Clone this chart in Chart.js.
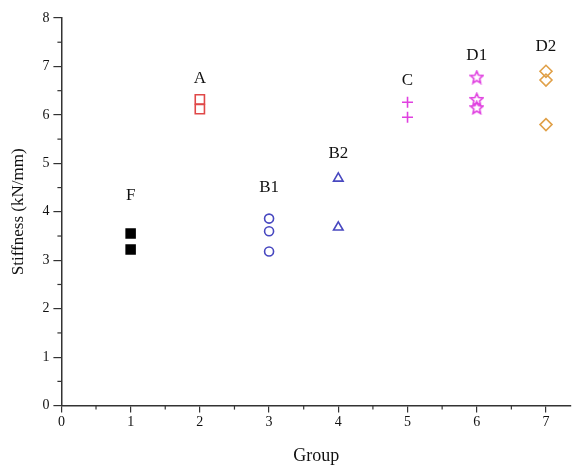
<!DOCTYPE html>
<html>
<head>
<meta charset="utf-8">
<script src="https://cdn.jsdelivr.net/npm/chart.js@4/dist/chart.umd.min.js"></script>
<style>
  html, body { margin: 0; padding: 0; background: #fff; }
  #wrap { width: 579px; height: 469px; }
</style>
</head>
<body>
<div id="wrap"><canvas id="chart" width="579" height="469"></canvas></div>
<script>
// data
var groups = ['F', 'A', 'B1', 'B2', 'C', 'D1', 'D2'];
var groupX = [1, 2, 3, 4, 5, 6, 7];
var valsF = [3.55, 3.22];
var valsA = [6.32, 6.12];
var valsB1 = [3.86, 3.6, 3.18];
var valsB2 = [4.69, 3.68];
var valsC = [6.26, 5.95];
var valsD1 = [6.78, 6.32, 6.15];
var valsD2 = [6.9, 6.72, 5.8];
// height of the group labels (data units)
var labelY = [4.34, 6.76, 4.5, 5.2, 6.71, 7.23, 7.42];
var xTicks = [0, 1, 2, 3, 4, 5, 6, 7];

var serif = '"Liberation Serif", "DejaVu Serif", serif';

// five point open star for D1
function makeStar(color) {
  var c = document.createElement('canvas');
  c.width = 15; c.height = 15;
  var g = c.getContext('2d');
  g.strokeStyle = color;
  g.lineWidth = 1.6;
  g.beginPath();
  for (var i = 0; i < 10; i++) {
    var r = i % 2 === 0 ? 6.5 : 3;
    var a = -Math.PI / 2 + i * Math.PI / 5;
    var px = 7.5 + r * Math.cos(a), py = 8 + r * Math.sin(a);
    if (i === 0) g.moveTo(px, py); else g.lineTo(px, py);
  }
  g.closePath();
  g.stroke();
  return c;
}

function pts(i, vals) {
  return vals.map(function (v) { return { x: groupX[i], y: v }; });
}

function ds(i, vals, style, color, fill, radius) {
  return {
    label: groups[i],
    data: pts(i, vals),
    pointStyle: style,
    pointRadius: radius,
    pointBorderColor: color,
    pointBackgroundColor: fill ? color : 'rgba(0,0,0,0)',
    pointBorderWidth: 1.6,
    showLine: false
  };
}

// minor ticks + group labels
var extras = {
  id: 'extras',
  afterDraw: function (chart) {
    var ctx = chart.ctx;
    var xs = chart.scales.x, ys = chart.scales.y;
    ctx.save();
    ctx.strokeStyle = '#333';
    ctx.lineWidth = 1.2;
    for (var v = 0.5; v < 8; v += 1) {
      if (v <= xs.max) {
        var px = xs.getPixelForValue(v);
        ctx.beginPath(); ctx.moveTo(px, ys.bottom); ctx.lineTo(px, ys.bottom + 4); ctx.stroke();
      }
      var py = ys.getPixelForValue(v);
      ctx.beginPath(); ctx.moveTo(xs.left, py); ctx.lineTo(xs.left - 4, py); ctx.stroke();
    }
    ctx.fillStyle = '#111';
    ctx.font = '17px ' + serif;
    ctx.textAlign = 'center';
    ctx.textBaseline = 'middle';
    for (var i = 0; i < groups.length; i++) {
      ctx.fillText(groups[i], xs.getPixelForValue(groupX[i]), ys.getPixelForValue(labelY[i]));
    }
    ctx.restore();
  }
};

new Chart(document.getElementById('chart'), {
  type: 'scatter',
  data: {
    datasets: [
      ds(0, valsF, 'rect', '#000', true, 6.3),
      ds(1, valsA, 'rect', '#e04848', false, 6.5),
      ds(2, valsB1, 'circle', '#4848c0', false, 4.5),
      ds(3, valsB2, 'triangle', '#4848c0', false, 5.5),
      ds(4, valsC, 'cross', '#e040e0', false, 5.5),
      ds(5, valsD1, makeStar('#e040e0'), '#e040e0', false, 6),
      ds(6, valsD2, 'rectRot', '#e0a048', false, 6)
    ]
  },
  options: {
    responsive: false,
    animation: false,
    layout: { padding: { top: 18, right: 0, left: 4, bottom: -2 } },
    plugins: { legend: { display: false }, tooltip: { enabled: false } },
    scales: {
      x: {
        type: 'linear',
        min: 0,
        max: 7.36,
        afterBuildTicks: function (axis) {
          axis.ticks = xTicks.map(function (v) { return { value: v }; });
        },
        border: { display: true, color: '#333', width: 1.5 },
        grid: { drawOnChartArea: false, drawTicks: true, tickLength: 7, color: '#333', lineWidth: 1.2 },
        ticks: { color: '#111', font: { family: serif, size: 14 }, padding: 1, maxRotation: 0 },
        title: { display: true, text: 'Group', color: '#111', font: { family: serif, size: 18 }, padding: { top: 14 } }
      },
      y: {
        type: 'linear',
        min: 0,
        max: 8,
        border: { display: true, color: '#333', width: 1.5 },
        grid: { drawOnChartArea: false, drawTicks: true, tickLength: 8, color: '#333', lineWidth: 1.2 },
        ticks: { stepSize: 1, color: '#111', font: { family: serif, size: 14 }, padding: 4 },
        title: { display: true, text: 'Stiffness (kN/mm)', color: '#111', font: { family: serif, size: 17 }, padding: { bottom: 10 } }
      }
    }
  },
  plugins: [extras]
});
</script>
</body>
</html>
